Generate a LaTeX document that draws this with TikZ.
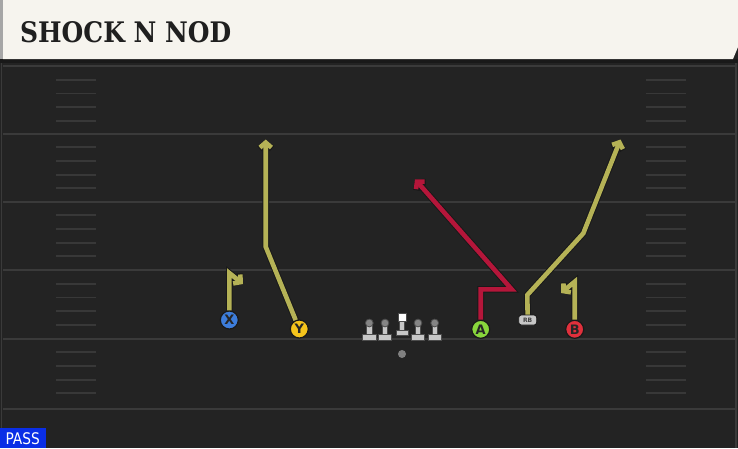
\documentclass[tikz,border=0pt]{standalone}
\usepackage{fontspec}
\setmainfont{DejaVu Serif}
\setsansfont{DejaVu Sans}
\usetikzlibrary{arrows.meta}

\definecolor{field}{HTML}{232323}
\definecolor{yardgrey}{HTML}{3A3A3A}
\definecolor{hashgrey}{HTML}{383838}
\definecolor{banner}{HTML}{F6F4EE}
\definecolor{routeyellow}{HTML}{B5B256}
\definecolor{routered}{HTML}{B5163A}
\definecolor{xblue}{HTML}{3D7DDB}
\definecolor{yyellow}{HTML}{F5C41C}
\definecolor{agreen}{HTML}{88D63C}
\definecolor{bred}{HTML}{E0303C}
\definecolor{passblue}{HTML}{0A2EE6}

\tikzset{
  yardline/.style={draw=yardgrey, line width=2pt},
  hash/.style={draw=hashgrey, line width=1.8pt},
  player/.style={draw=black!90, line width=1.2pt, circle, minimum size=18pt, inner sep=0pt,
    font=\sffamily\bfseries\fontsize{13}{13}\selectfont, text=black!85},
  route/.style={line width=4.6pt, draw=routeyellow, line join=miter,
    preaction={draw=black!90, line width=6.6pt,
      -{Straight Barb[length=5pt,width=12.5pt,line width=6.6pt]}},
    -{Straight Barb[length=5pt,width=11.5pt,line width=4.6pt]}},
  lineman/.style={fill=black!22, draw=black!70, line width=0.8pt}
}

\begin{document}
\begin{tikzpicture}[x=1pt, y=-1pt]
\useasboundingbox (0,0) rectangle (738,448);
\fill[field] (0,0) rectangle (738,448);

% field
\foreach \y in {66,133.5,201.5,270,338.5,408.5}
  \draw[yardline] (3,\y) -- (735,\y);
\foreach \y in {66,133.5,201.5,270,338.5}
  \foreach \k in {1,2,3,4} {
    \draw[hash] (56,{\y+13.7*\k}) -- (96,{\y+13.7*\k});
    \draw[hash] (646,{\y+13.7*\k}) -- (686,{\y+13.7*\k});
  }
\draw[yardgrey, line width=1.5pt] (1.5,59) -- (1.5,448);
\draw[yardgrey, line width=1.5pt] (736,59) -- (736,448);

% banner
\fill[black!90] (0,59) rectangle (738,63);
\fill[black!35] (0,0) rectangle (3,59);
\fill[banner] (3,0) -- (738,0) -- (738,47) -- (733,59) -- (3,59) -- cycle;
\node at (20,32.2) [anchor=west, inner sep=0pt, text=black!88] (title)
  {\resizebox{211pt}{21pt}{\bfseries SHOCK N NOD}};

% play type
\fill[passblue] (0,428) rectangle (46,448);
\node at (22.7,439) [text=white, inner sep=0pt] (pass)
  {\scalebox{0.86}[1]{\sffamily\fontsize{16}{16}\selectfont PASS}};

% line
\foreach \x in {369.3,385,418,434.7} {
  \filldraw[lineman] (\x-6.6,334) rectangle (\x+6.6,340.5);
  \filldraw[lineman] (\x-2.6,325) rectangle (\x+2.6,334.5);
  \filldraw[fill=black!48, draw=black!70, line width=0.8pt] (\x,323) circle (3.9);
}
\filldraw[lineman] (396,330) rectangle (408.3,335);
\filldraw[lineman] (399.8,321.7) rectangle (404.5,330.5);
\filldraw[fill=white, draw=black!70, line width=0.8pt] (398,313.3) rectangle (406.3,321.7);
\fill[black!50] (402,354) circle (4);

% players
\node at (229.3,320) [player, fill=xblue] (X) {X};
\node at (299.3,329) [player, fill=yyellow] (Y) {Y};
\node at (480.7,329.3) [player, fill=agreen] (A) {A};
\node at (574.7,329.3) [player, fill=bred] (B) {B};
\node at (527.7,320) [draw=black!90, fill=black!22, line width=0.9pt, rounded corners=2.5pt,
  minimum width=18pt, minimum height=10pt, inner sep=0pt,
  font=\sffamily\bfseries\fontsize{6}{6}\selectfont, text=black!75] (RB) {RB};

% routes
\coordinate (x1) at (229.3,273);
\coordinate (x2) at (243,284);
\draw[route] (X) -- (x1) -- (x2);
\coordinate (y1) at (265.7,246.7);
\coordinate (y2) at (265.7,139.5);
\draw[route] (Y) -- (y1) -- (y2);
\coordinate (a1) at (480.7,289.3);
\coordinate (a2) at (511.7,289.3);
\coordinate (a3) at (415,179.3);
\draw[route, draw=routered] (A) -- (a1) -- (a2) -- (a3);
\coordinate (r1) at (527.3,295);
\coordinate (r2) at (583.3,233.3);
\coordinate (r3) at (620.5,139.5);
\draw[route] (RB) -- (r1) -- (r2) -- (r3);
\coordinate (b1) at (574.7,281.7);
\coordinate (b2) at (561,293);
\draw[route] (B) -- (b1) -- (b2);
\end{tikzpicture}
\end{document}
